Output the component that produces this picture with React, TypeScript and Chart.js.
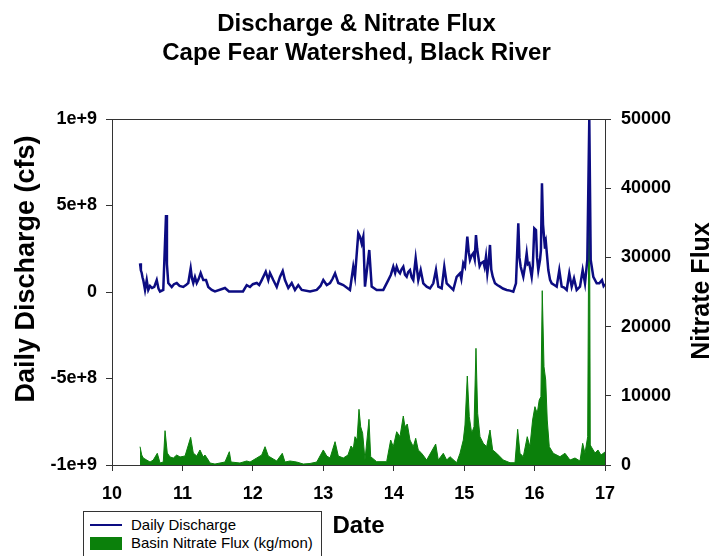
import React, { useEffect, useRef } from 'react';
import { Chart, registerables } from 'chart.js';

Chart.register(...registerables);

const FONT = "'Liberation Sans', Arial, sans-serif";

const titleLines = ['Discharge & Nitrate Flux', 'Cape Fear Watershed, Black River'];
const leftAxisTitle = 'Daily Discharge (cfs)';
const rightAxisTitle = 'Nitrate Flux';
const xAxisTitle = 'Date';
const dischargeLabel = 'Daily Discharge';
const nitrateLabel = 'Basin Nitrate Flux (kg/mon)';

const xTicks = [10, 11, 12, 13, 14, 15, 16, 17];
const leftTicks = [-1e9, -5e8, 0, 5e8, 1e9];
const rightTicks = [0, 10000, 20000, 30000, 40000, 50000];

const dischargeYears = [
  10.398, 10.41, 10.422, 10.433, 10.444, 10.469, 10.493, 10.515, 10.54, 10.568,
  10.6, 10.635, 10.66, 10.682, 10.728, 10.767, 10.78, 10.799, 10.848, 10.88,
  10.919, 10.96, 11.012, 11.05, 11.083, 11.117, 11.135, 11.154, 11.178, 11.203,
  11.23, 11.259, 11.296, 11.335, 11.367, 11.416, 11.462, 11.604, 11.661, 11.86,
  11.913, 11.96, 12.0, 12.055, 12.09, 12.126, 12.183, 12.219, 12.243, 12.29,
  12.339, 12.385, 12.424, 12.456, 12.503, 12.552, 12.598, 12.645, 12.694, 12.812,
  12.907, 12.96, 13.0, 13.049, 13.096, 13.13, 13.167, 13.213, 13.284, 13.379,
  13.426, 13.45, 13.497, 13.521, 13.545, 13.568, 13.592, 13.653, 13.687, 13.758,
  13.852, 13.923, 13.96, 13.994, 14.02, 14.042, 14.065, 14.089, 14.11, 14.136,
  14.16, 14.184, 14.205, 14.231, 14.255, 14.278, 14.312, 14.349, 14.383, 14.42,
  14.468, 14.515, 14.562, 14.6, 14.633, 14.681, 14.718, 14.752, 14.799, 14.846,
  14.894, 14.941, 14.96, 14.988, 15.012, 15.045, 15.065, 15.083, 15.105, 15.13,
  15.15, 15.168, 15.185, 15.201, 15.22, 15.239, 15.272, 15.29, 15.31, 15.329,
  15.345, 15.367, 15.385, 15.406, 15.438, 15.47, 15.509, 15.55, 15.604, 15.65,
  15.698, 15.736, 15.769, 15.785, 15.803, 15.84, 15.865, 15.888, 15.905, 15.925,
  15.959, 15.975, 15.996, 16.02, 16.035, 16.053, 16.077, 16.09, 16.105, 16.12,
  16.134, 16.148, 16.162, 16.195, 16.22, 16.243, 16.28, 16.314, 16.351, 16.385,
  16.42, 16.456, 16.493, 16.527, 16.56, 16.598, 16.645, 16.683, 16.716, 16.749,
  16.777, 16.797, 16.834, 16.882, 16.919, 16.957, 16.98, 17.0,
];
const dischargeCfs = [
  1.66e8, 1.25e8, 1.1e8, 8.5e7, 6.9e7, 1.2e7, 6.9e7, 1.2e7, 3.5e7, 2.3e7,
  3.0e7, 6.9e7, 2.0e7, 3e6, 1.2e7, 4.45e8, 1.6e8, 5.2e7, 2.9e7, 4.5e7,
  5.2e7, 3.5e7, 2.9e7, 4.0e7, 5.2e7, 1.37e8, 8e7, 5.2e7, 8.7e7, 5.2e7,
  7.5e7, 1.1e8, 6.9e7, 6.9e7, 2.9e7, 1.2e7, 3e6, 2.3e7, 3e6, 3e6,
  4.0e7, 2.9e7, 4.5e7, 5.2e7, 4.0e7, 6.9e7, 1.17e8, 6.9e7, 1.1e8, 6.9e7,
  2.9e7, 8.7e7, 1.21e8, 6.9e7, 2.3e7, 5.2e7, 1.2e7, 4.0e7, 1.2e7, 3e6,
  1.2e7, 3.5e7, 6.9e7, 4.0e7, 5.2e7, 7.5e7, 1.08e8, 5.2e7, 4.0e7, 1.2e7,
  1.46e8, 8.8e7, 3.39e8, 3.2e8, 2.81e8, 3.2e8, 3.1e7, 2.43e8, 3.1e7, 1.2e7,
  1.2e7, 6.9e7, 1.0e8, 1.46e8, 1.1e8, 1.46e8, 1.2e8, 1.08e8, 1.3e8, 1.46e8,
  1.0e8, 8.8e7, 1.15e8, 1.27e8, 8.5e7, 6.9e7, 1.95e8, 6.9e7, 1.27e8, 5.0e7,
  3.1e7, 2.1e7, 5.0e7, 1.27e8, 3.1e7, 2.1e7, 1.46e8, 5.0e7, 3.1e7, 1.2e7,
  8.8e7, 1.08e8, 7.5e7, 1.66e8, 1.46e8, 3.2e8, 2.3e8, 1.85e8, 2.1e8, 2.24e8,
  1.9e8, 3.29e8, 2.5e8, 2.04e8, 1.5e8, 1.66e8, 1.75e8, 1.45e8, 2.04e8, 1.08e8,
  1.6e8, 2.72e8, 1.3e8, 8.8e7, 5.0e7, 4.0e7, 3.1e7, 2.0e7, 1.2e7, 8e6,
  2e6, 5.0e7, 3.97e8, 2.0e8, 1.46e8, 8.8e7, 1.5e8, 2.24e8, 1.6e8, 1.66e8,
  8.8e7, 1.5e8, 3.68e8, 3.58e8, 2.0e8, 1.27e8, 1.85e8, 2.4e8, 6.28e8, 3.9e8,
  3.2e8, 2.5e8, 2.81e8, 1.27e8, 7e7, 5.0e7, 4.0e7, 3.1e7, 1.27e8, 3.1e7,
  2.5e7, 1.2e7, 1.08e8, 3.1e7, 7.9e7, 1.2e7, 3.1e7, 1.27e8, 5.0e7, 1.85e8,
  1.0e9, 1.85e8, 8.8e7, 5.0e7, 5.0e7, 6.9e7, 3.5e7, 4.6e7,
];

const nitrateYears = [
  10.398, 10.422, 10.444, 10.493, 10.54, 10.586, 10.643, 10.682, 10.728, 10.753,
  10.785, 10.824, 10.871, 10.919, 10.966, 11.037, 11.117, 11.154, 11.203, 11.249,
  11.296, 11.32, 11.367, 11.391, 11.462, 11.604, 11.666, 11.69, 11.817, 11.913,
  11.96, 12.055, 12.126, 12.173, 12.219, 12.29, 12.339, 12.418, 12.456, 12.527,
  12.622, 12.716, 12.811, 12.907, 13.0, 13.049, 13.096, 13.167, 13.213, 13.284,
  13.351, 13.394, 13.426, 13.45, 13.479, 13.507, 13.531, 13.559, 13.592, 13.649,
  13.673, 13.758, 13.9, 13.957, 13.994, 14.042, 14.089, 14.136, 14.16, 14.193,
  14.231, 14.278, 14.312, 14.349, 14.397, 14.468, 14.596, 14.633, 14.704, 14.752,
  14.799, 14.894, 14.941, 14.988, 15.012, 15.045, 15.073, 15.107, 15.14, 15.168,
  15.192, 15.225, 15.272, 15.319, 15.367, 15.405, 15.462, 15.556, 15.651, 15.722,
  15.76, 15.793, 15.84, 15.896, 15.934, 15.972, 16.005, 16.038, 16.066, 16.09,
  16.109, 16.134, 16.158, 16.18, 16.209, 16.266, 16.361, 16.432, 16.503, 16.574,
  16.645, 16.683, 16.716, 16.754, 16.777, 16.791, 16.815, 16.858, 16.9, 16.943,
  17.0,
];
const nitrateFlux = [
  2645, 1445, 1010, 720, 430, 720, 1690, 290, 430, 4960,
  1730, 1160, 1010, 1445, 1160, 1300, 4000, 1730, 1300, 2170,
  1160, 1445, 720, 290, 140, 430, 1920, 430, 290, 580,
  430, 1010, 1445, 2645, 1300, 870, 580, 1690, 430, 580,
  430, 140, 220, 430, 2170, 1300, 1010, 3370, 1300, 1010,
  1445, 2750, 2310, 4090, 3610, 8050, 5530, 4580, 720, 6600,
  1200, 480, 480, 3610, 2645, 4810, 4090, 7080, 5530, 5920,
  3610, 2645, 3860, 2170, 1690, 720, 3030, 720, 1690, 720,
  1200, 330, 1690, 3610, 5780, 12860, 6980, 4580, 5530, 16860,
  7470, 4090, 3130, 2645, 5060, 2170, 1690, 720, 330, 330,
  5160, 1690, 1200, 4090, 2645, 6500, 8430, 7470, 9390, 9870,
  25190, 14200, 12280, 6500, 2645, 1690, 1200, 1690, 720, 1010,
  580, 3130, 1690, 4090, 49850, 2890, 2460, 1730, 2170, 1445,
  1880,
];

const NAVY = '#0c0c82';
const GREEN = '#0b800b';

const framePlugin = {
  id: 'frameAndTitles',
  afterDraw(chart: any) {
    const { ctx, chartArea } = chart;
    const { left, top, right } = chartArea;
    ctx.save();
    ctx.strokeStyle = '#333';
    ctx.lineWidth = 1;
    ctx.beginPath();
    ctx.moveTo(left, Math.round(top) + 0.5);
    ctx.lineTo(right, Math.round(top) + 0.5);
    ctx.stroke();

    ctx.fillStyle = '#000';
    ctx.textAlign = 'center';
    ctx.textBaseline = 'middle';
    ctx.font = `bold 27px ${FONT}`;
    ctx.translate(27, 269);
    ctx.rotate(-Math.PI / 2);
    ctx.fillText(leftAxisTitle, 0, 0);
    ctx.restore();

    ctx.save();
    ctx.fillStyle = '#000';
    ctx.textAlign = 'center';
    ctx.textBaseline = 'middle';
    ctx.font = `bold 25px ${FONT}`;
    ctx.translate(702, 291);
    ctx.rotate(-Math.PI / 2);
    ctx.fillText(rightAxisTitle, 0, 0);
    ctx.restore();
  },
};

export default function App() {
  const ref = useRef<HTMLCanvasElement | null>(null);

  useEffect(() => {
    if (!ref.current) return;
    const tickFont = { family: FONT, size: 18, weight: 'bold' as const };
    const chart = new Chart(ref.current, {
      type: 'line',
      data: {
        datasets: [
          {
            label: dischargeLabel,
            data: dischargeYears.map((x, i) => ({ x, y: dischargeCfs[i] })),
            yAxisID: 'y',
            borderColor: NAVY,
            borderWidth: 2.5,
            pointRadius: 0,
            tension: 0,
            fill: false,
            order: 0,
          },
          {
            label: nitrateLabel,
            data: nitrateYears.map((x, i) => ({ x, y: nitrateFlux[i] })),
            yAxisID: 'y1',
            borderColor: GREEN,
            backgroundColor: GREEN,
            borderWidth: 1,
            pointRadius: 0,
            tension: 0,
            fill: 'origin',
            order: 1,
          },
        ],
      },
      options: {
        responsive: false,
        animation: false,
        events: [],
        layout: { padding: 0 },
        plugins: {
          legend: { display: false },
          tooltip: { enabled: false },
          title: {
            display: true,
            text: titleLines,
            color: '#000',
            font: { family: FONT, size: 24, weight: 'bold', lineHeight: 1.2 },
            padding: { top: 10, bottom: 51.4 },
          },
        },
        scales: {
          x: {
            type: 'linear',
            min: xTicks[0],
            max: xTicks[xTicks.length - 1],
            afterBuildTicks: (s: any) => {
              s.ticks = xTicks.map((v) => ({ value: v }));
            },
            ticks: { color: '#000', font: tickFont, padding: 12, maxRotation: 0 },
            grid: { drawOnChartArea: false, drawTicks: true, tickLength: 6, color: '#333' },
            border: { color: '#333', width: 1 },
            title: {
              display: true,
              text: xAxisTitle,
              color: '#000',
              font: { family: FONT, size: 24, weight: 'bold', lineHeight: 1.2 },
              padding: { top: 0, bottom: 15.6 },
            },
            afterFit: (s: any) => {
              s.height = 91;
            },
          },
          y: {
            type: 'linear',
            position: 'left',
            min: leftTicks[0],
            max: leftTicks[leftTicks.length - 1],
            afterBuildTicks: (s: any) => {
              s.ticks = leftTicks.map((v) => ({ value: v }));
            },
            ticks: {
              color: '#000',
              font: tickFont,
              padding: 9,
              callback: (v: any) => (Number(v) === 0 ? '0' : Number(v).toExponential()),
            },
            grid: { drawOnChartArea: false, drawTicks: true, tickLength: 6, color: '#333' },
            border: { color: '#333', width: 1 },
            afterFit: (s: any) => {
              s.width = 112;
            },
          },
          y1: {
            type: 'linear',
            position: 'right',
            min: rightTicks[0],
            max: rightTicks[rightTicks.length - 1],
            afterBuildTicks: (s: any) => {
              s.ticks = rightTicks.map((v) => ({ value: v }));
            },
            ticks: {
              color: '#000',
              font: tickFont,
              padding: 10,
              callback: (v: any) => String(v),
            },
            grid: { drawOnChartArea: false, drawTicks: true, tickLength: 6, color: '#333' },
            border: { color: '#333', width: 1 },
            afterFit: (s: any) => {
              s.width = 108;
            },
          },
        },
      },
      plugins: [framePlugin],
    });
    return () => chart.destroy();
  }, []);

  return (
    <div
      style={{
        position: 'fixed',
        left: 0,
        top: 0,
        width: 713,
        height: 556,
        overflow: 'hidden',
        background: '#fff',
      }}
    >
      <canvas ref={ref} width={713} height={556} style={{ display: 'block' }} />
      <div
        style={{
          position: 'absolute',
          left: 83,
          top: 511,
          width: 239,
          height: 60,
          border: '1px solid #333',
          boxSizing: 'border-box',
          background: '#fff',
          fontFamily: FONT,
          fontSize: 15,
          color: '#000',
        }}
      >
        <div style={{ position: 'absolute', left: 6, top: 12, width: 32, height: 2, background: NAVY }} />
        <div style={{ position: 'absolute', left: 47, top: 4, lineHeight: '18px', whiteSpace: 'nowrap' }}>
          {dischargeLabel}
        </div>
        <div style={{ position: 'absolute', left: 6, top: 25, width: 32, height: 13, background: GREEN }} />
        <div style={{ position: 'absolute', left: 47, top: 22, lineHeight: '18px', whiteSpace: 'nowrap' }}>
          {nitrateLabel}
        </div>
      </div>
    </div>
  );
}
